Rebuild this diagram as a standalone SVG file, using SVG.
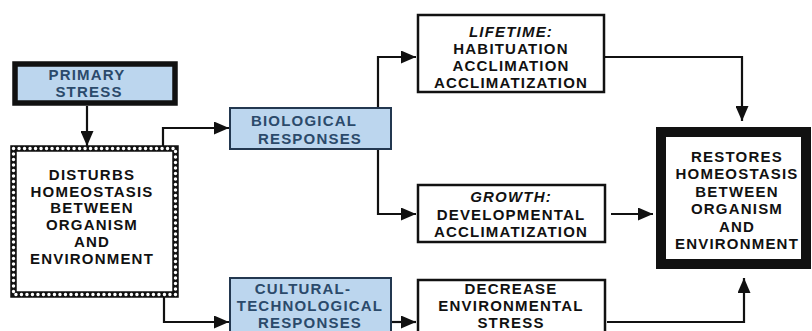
<svg xmlns="http://www.w3.org/2000/svg" width="812" height="331" viewBox="0 0 812 331">
<style>
text{font-family:"Liberation Sans",Arial,sans-serif;font-weight:bold;font-size:15px;text-anchor:middle;letter-spacing:1.2px}
.blue text{fill:#2b4a6b}
.dark text{fill:#111}
.it{font-style:italic}
.bluebox{fill:#bcd6ee;stroke:#233850;stroke-width:2}
.wbox{fill:#fff;stroke:#111;stroke-width:2.5}
.conn{fill:none;stroke:#111;stroke-width:2.2}
</style>
<defs>
<marker id="ah" markerUnits="userSpaceOnUse" markerWidth="16" markerHeight="13" refX="15" refY="6.5" orient="auto">
<path d="M0,0 L15,6.5 L0,13 z" fill="#111"/>
</marker>
</defs>
<rect width="812" height="331" fill="#fff"/>
<g id="connectors">
<path class="conn" d="M87,106 V146" marker-end="url(#ah)"/>
<path class="conn" d="M163,148 V128 H229" marker-end="url(#ah)"/>
<path class="conn" d="M164,296 V322 H229" marker-end="url(#ah)"/>
<path class="conn" d="M378,128 V57 H416" marker-end="url(#ah)"/>
<path class="conn" d="M378,128 V214 H416" marker-end="url(#ah)"/>
<path class="conn" d="M389,322 H416" marker-end="url(#ah)"/>
<path class="conn" d="M605,57 H742 V121" marker-end="url(#ah)"/>
<path class="conn" d="M611,214 H653" marker-end="url(#ah)"/>
<path class="conn" d="M607,322 H744 V278" marker-end="url(#ah)"/>
</g>
<g id="primary-stress" class="blue">
<rect x="15" y="64" width="160" height="39" fill="#bcd6ee" stroke="#111" stroke-width="5.5"/>
<text x="87" y="80">PRIMARY</text>
<text x="89" y="97">STRESS</text>
</g>
<g id="disturbs" class="dark">
<rect x="13.5" y="148.5" width="162" height="146" fill="#fff" stroke="#111" stroke-width="6.5"/>
<rect x="13.5" y="148.5" width="162" height="146" fill="none" stroke="#fff" stroke-width="3.4" stroke-linecap="round" stroke-dasharray="0.1 5.4"/>
<text x="92" y="180">DISTURBS</text>
<text x="92" y="197">HOMEOSTASIS</text>
<text x="92" y="213">BETWEEN</text>
<text x="92" y="230">ORGANISM</text>
<text x="92" y="247">AND</text>
<text x="92" y="264">ENVIRONMENT</text>
</g>
<g id="biological" class="blue">
<rect class="bluebox" x="230" y="108" width="161" height="41"/>
<text x="304" y="126">BIOLOGICAL</text>
<text x="310" y="144">RESPONSES</text>
</g>
<g id="cultural" class="blue">
<rect class="bluebox" x="230" y="278" width="161" height="62"/>
<text x="303" y="294">CULTURAL-</text>
<text x="310" y="311">TECHNOLOGICAL</text>
<text x="310" y="328">RESPONSES</text>
</g>
<g id="lifetime" class="dark">
<rect class="wbox" x="418" y="15" width="186" height="77"/>
<text class="it" x="511" y="37">LIFETIME:</text>
<text x="511" y="54">HABITUATION</text>
<text x="511" y="71">ACCLIMATION</text>
<text x="511" y="88">ACCLIMATIZATION</text>
</g>
<g id="growth" class="dark">
<rect class="wbox" x="418" y="185" width="187" height="57"/>
<text class="it" x="511" y="202">GROWTH:</text>
<text x="511" y="220">DEVELOPMENTAL</text>
<text x="511" y="237">ACCLIMATIZATION</text>
</g>
<g id="decrease" class="dark">
<rect class="wbox" x="418" y="280" width="187" height="60"/>
<text x="511" y="294">DECREASE</text>
<text x="511" y="311">ENVIRONMENTAL</text>
<text x="511" y="328">STRESS</text>
</g>
<g id="restores" class="dark">
<rect x="661" y="132" width="145" height="132" fill="#fff" stroke="#111" stroke-width="10"/>
<text x="737" y="162">RESTORES</text>
<text x="737" y="179">HOMEOSTASIS</text>
<text x="737" y="197">BETWEEN</text>
<text x="737" y="214">ORGANISM</text>
<text x="737" y="232">AND</text>
<text x="737" y="249">ENVIRONMENT</text>
</g>
</svg>
